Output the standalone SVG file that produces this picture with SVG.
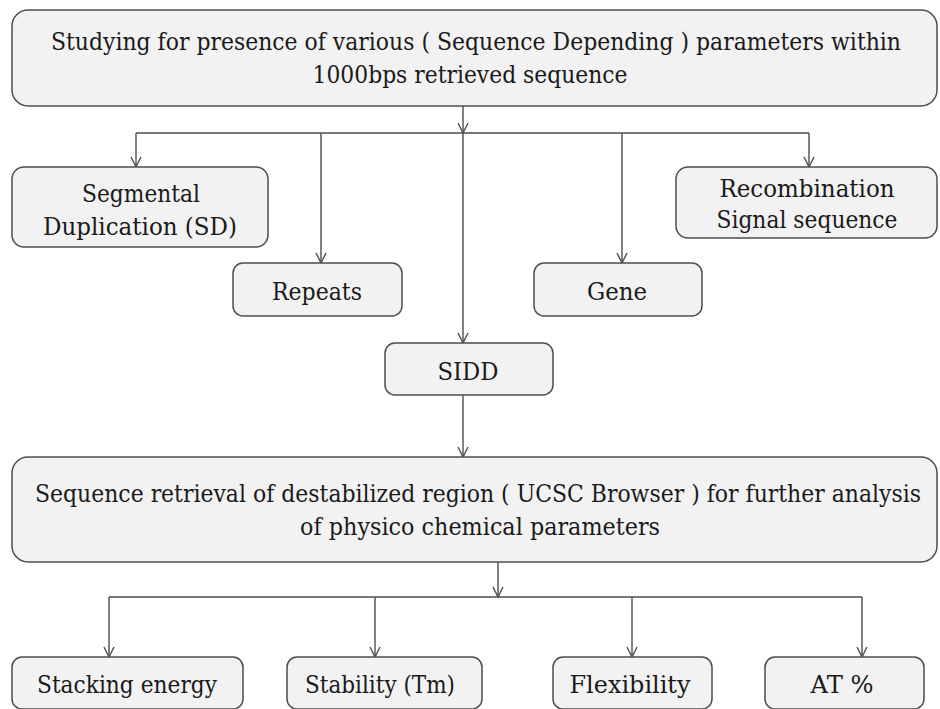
<svg xmlns="http://www.w3.org/2000/svg" width="940" height="709" viewBox="0 0 940 709">
  <style>
    .box { fill: #f2f2f2; stroke: #4d4d4d; stroke-width: 1.5; }
    .lbl { font-family: 'DejaVu Serif', serif; font-size: 24px; fill: #1a1a1a; text-anchor: middle; }
    .wire { fill: none; stroke: #4d4d4d; stroke-width: 1.4; }
  </style>
  <defs>
    <marker id="arrow" markerUnits="userSpaceOnUse" markerWidth="14" markerHeight="14" viewBox="-12 -7 14 14" refX="0" refY="0" orient="auto">
      <path d="M-10,-5 L0,0 L-10,5" fill="none" stroke="#4d4d4d" stroke-width="1.4"/>
    </marker>
  </defs>
  <rect width="940" height="709" fill="#ffffff"/>

  <g id="connectors">
    <path class="wire" d="M463,106 V133" marker-end="url(#arrow)"/>
    <path class="wire" d="M136,133 H809"/>
    <path class="wire" d="M136,133 V167" marker-end="url(#arrow)"/>
    <path class="wire" d="M321,133 V263" marker-end="url(#arrow)"/>
    <path class="wire" d="M463,133 V343" marker-end="url(#arrow)"/>
    <path class="wire" d="M622,133 V263" marker-end="url(#arrow)"/>
    <path class="wire" d="M809,133 V167" marker-end="url(#arrow)"/>
    <path class="wire" d="M463,395 V457" marker-end="url(#arrow)"/>
    <path class="wire" d="M498,562 V597" marker-end="url(#arrow)"/>
    <path class="wire" d="M109,597 H862"/>
    <path class="wire" d="M109,597 V657" marker-end="url(#arrow)"/>
    <path class="wire" d="M375,597 V657" marker-end="url(#arrow)"/>
    <path class="wire" d="M632,597 V657" marker-end="url(#arrow)"/>
    <path class="wire" d="M862,597 V657" marker-end="url(#arrow)"/>
  </g>

  <g id="study">
    <rect class="box" x="12" y="10" width="925" height="96" rx="16"/>
    <text class="lbl" x="476" y="50" textLength="850" lengthAdjust="spacingAndGlyphs">Studying for presence of various ( Sequence Depending ) parameters within</text>
    <text class="lbl" x="470" y="83" textLength="315" lengthAdjust="spacingAndGlyphs">1000bps retrieved sequence</text>
  </g>

  <g id="segdup">
    <rect class="box" x="12" y="167" width="256" height="80" rx="12"/>
    <text class="lbl" x="141" y="202" textLength="118" lengthAdjust="spacingAndGlyphs">Segmental</text>
    <text class="lbl" x="140" y="235" textLength="194" lengthAdjust="spacingAndGlyphs">Duplication (SD)</text>
  </g>

  <g id="repeats">
    <rect class="box" x="233" y="263" width="169" height="53" rx="10"/>
    <text class="lbl" x="317" y="300" textLength="90" lengthAdjust="spacingAndGlyphs">Repeats</text>
  </g>

  <g id="sidd">
    <rect class="box" x="385" y="343" width="168" height="52" rx="10"/>
    <text class="lbl" x="468" y="380" textLength="61" lengthAdjust="spacingAndGlyphs">SIDD</text>
  </g>

  <g id="gene">
    <rect class="box" x="534" y="263" width="168" height="53" rx="10"/>
    <text class="lbl" x="617" y="300" textLength="60" lengthAdjust="spacingAndGlyphs">Gene</text>
  </g>

  <g id="rss">
    <rect class="box" x="676" y="167" width="261" height="71" rx="12"/>
    <text class="lbl" x="807" y="197" textLength="175" lengthAdjust="spacingAndGlyphs">Recombination</text>
    <text class="lbl" x="807" y="228" textLength="181" lengthAdjust="spacingAndGlyphs">Signal sequence</text>
  </g>

  <g id="retrieval">
    <rect class="box" x="12" y="457" width="925" height="105" rx="16"/>
    <text class="lbl" x="478" y="502" textLength="886" lengthAdjust="spacingAndGlyphs">Sequence retrieval of destabilized region ( UCSC Browser ) for further analysis</text>
    <text class="lbl" x="480" y="535" textLength="360" lengthAdjust="spacingAndGlyphs">of physico chemical parameters</text>
  </g>

  <g id="stacking">
    <rect class="box" x="12" y="657" width="231" height="52" rx="10"/>
    <text class="lbl" x="127" y="693" textLength="180" lengthAdjust="spacingAndGlyphs">Stacking energy</text>
  </g>

  <g id="stability">
    <rect class="box" x="287" y="657" width="195" height="52" rx="10"/>
    <text class="lbl" x="380" y="693" textLength="150" lengthAdjust="spacingAndGlyphs">Stability (Tm)</text>
  </g>

  <g id="flexibility">
    <rect class="box" x="553" y="657" width="159" height="52" rx="10"/>
    <text class="lbl" x="630" y="693" textLength="121" lengthAdjust="spacingAndGlyphs">Flexibility</text>
  </g>

  <g id="at-content">
    <rect class="box" x="765" y="657" width="159" height="52" rx="10"/>
    <text class="lbl" x="842" y="693" textLength="63" lengthAdjust="spacingAndGlyphs">AT %</text>
  </g>
</svg>
